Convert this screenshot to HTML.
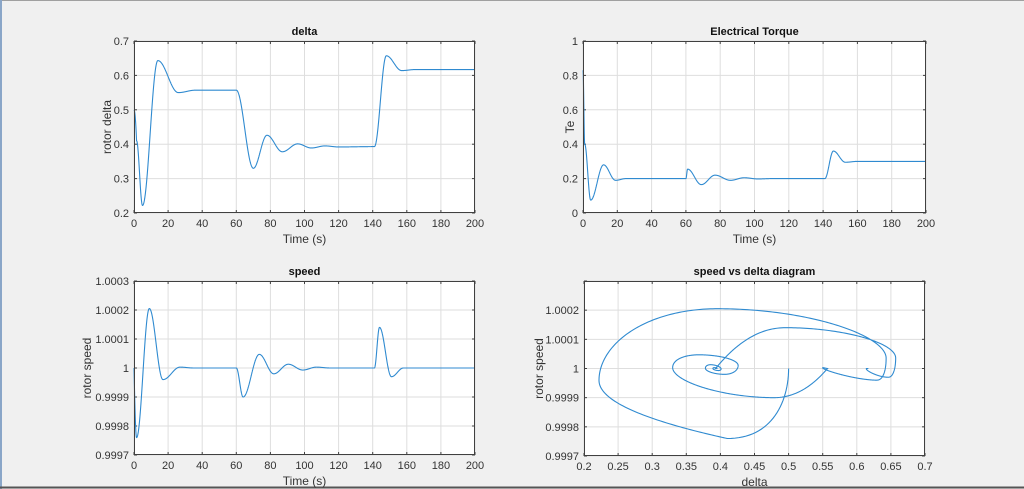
<!DOCTYPE html>
<html><head><meta charset="utf-8"><style>
html,body{margin:0;padding:0;background:#f0f0f0;}
svg{display:block;font-family:"Liberation Sans",Arial,sans-serif;}
</style></head><body>
<svg id="s" width="1024" height="489" viewBox="0 0 1024 489" xmlns="http://www.w3.org/2000/svg">
<rect x="0" y="0" width="1024" height="489" fill="#f0f0f0"/>
<line x1="0" y1="0.5" x2="1024" y2="0.5" stroke="#a0a0a0"/>
<line x1="1" y1="0" x2="1" y2="489" stroke="#8aa6c8" stroke-width="2"/>
<line x1="0" y1="487.5" x2="1024" y2="487.5" stroke="#555" stroke-width="2"/>
</svg>
<script>
var NS="http://www.w3.org/2000/svg",S=document.getElementById('s');
function el(t,a,txt){var e=document.createElementNS(NS,t);for(var k in a)e.setAttribute(k,a[k]);if(txt!=null)e.textContent=txt;S.appendChild(e);return e;}
function interp(k,t){for(var i=0;i<k.length-1;i++){if(t<=k[i+1][0]){var a=k[i],b=k[i+1],u=(t-a[0])/(b[0]-a[0]);var w=(1-Math.cos(Math.PI*u))/2;return a[1]+(b[1]-a[1])*w;}}return k[k.length-1][1];}
var D=[[1.5,0.41],[5,0.222],[14,0.643],[26,0.55],[36,0.557],[60,0.557],[70,0.33],[78,0.426],[87,0.378],[96,0.401],[104,0.389],[112,0.395],[120,0.392],[141,0.393],[148,0.657],[157,0.614],[165,0.617],[200,0.617]];
var W=[[1.5,0.99976],[9,1.000205],[17,0.99996],[27,1.000003],[35,1],[60,1],[64,0.9999],[73.5,1.000047],[82,0.99998],[90.5,1.000013],[99,0.999993],[107,1.000003],[115,1],[141,1],[144,1.00014],[151,0.99997],[158,1],[200,1]];
var T=[[0,0.83],[1,0.4],[4.5,0.075],[12,0.28],[19,0.19],[25,0.2],[60,0.2],[61,0.255],[69,0.165],[77,0.22],[86,0.19],[94,0.205],[102,0.198],[110,0.2],[141,0.2],[146,0.36],[153,0.295],[160,0.3],[200,0.3]];
function dl(t){if(t<1.5){var u=t/1.5;return 0.5-0.09*u*u;}return interp(D,t);}
function sp(t){if(t<1.5){var u=t/1.5;return 1-0.00024*Math.sin(Math.PI/2*u);}return interp(W,t);}
function fmt(v,d){var s=v.toFixed(d);if(d>0){s=s.replace(/0+$/,'').replace(/\.$/,'');}return s;}
function axes(o){
 var x0=o.x0,x1=o.x1,y0=o.y0,y1=o.y1;
 el('rect',{x:x0,y:y0,width:x1-x0,height:y1-y0,fill:'#fff'});
 var X=function(v){return x0+(v-o.xl[0])/(o.xl[1]-o.xl[0])*(x1-x0);};
 var Y=function(v){return y1-(v-o.yl[0])/(o.yl[1]-o.yl[0])*(y1-y0);};
 var nx=Math.round((o.xl[1]-o.xl[0])/o.xs),ny=Math.round((o.yl[1]-o.yl[0])/o.ys);
 for(var i=0;i<=nx;i++){var v=o.xl[0]+i*o.xs,px=X(v);
  el('line',{x1:px,y1:y0,x2:px,y2:y1,stroke:'#dedede','stroke-width':1});
  el('line',{x1:px,y1:y1,x2:px,y2:y1-3,stroke:'#404040'});el('line',{x1:px,y1:y0,x2:px,y2:y0+3,stroke:'#404040'});
  el('text',{x:px,y:y1+14,'font-size':11,fill:'#333','text-anchor':'middle'},fmt(v,o.xd));}
 for(var j=0;j<=ny;j++){var v=o.yl[0]+j*o.ys,py=Y(v);
  el('line',{x1:x0,y1:py,x2:x1,y2:py,stroke:'#dedede','stroke-width':1});
  el('line',{x1:x0,y1:py,x2:x0+3,y2:py,stroke:'#404040'});el('line',{x1:x1,y1:py,x2:x1-3,y2:py,stroke:'#404040'});
  if(!(o.skipTop&&j==ny))el('text',{x:x0-5,y:py+4,'font-size':11,fill:'#333','text-anchor':'end'},fmt(v,o.yd));}
 var pts=[];for(var k=0;k<=4000;k++){var t=k*0.05;var p=o.f(t);pts.push(X(p[0]).toFixed(2)+','+Y(p[1]).toFixed(2));}
 el('polyline',{points:pts.join(' '),fill:'none',stroke:'#2f8ad0','stroke-width':1.1});
 el('rect',{x:x0+0.5,y:y0+0.5,width:x1-x0-1,height:y1-y0-1,fill:'none',stroke:'#404040','stroke-width':1});
 el('text',{x:(x0+x1)/2,y:y0-6,'font-size':11,'font-weight':'bold',fill:'#111','text-anchor':'middle'},o.title);
 el('text',{x:(x0+x1)/2,y:y1+30,'font-size':12,fill:'#333','text-anchor':'middle'},o.xlab);
 var yx=o.ylx,yy=(y0+y1)/2;el('text',{x:yx,y:yy,'font-size':12,fill:'#333','text-anchor':'middle',transform:'rotate(-90 '+yx+' '+yy+')'},o.ylab);
}
axes({x0:134,x1:475,y0:41,y1:213,xl:[0,200],xs:20,xd:0,yl:[0.2,0.7],ys:0.1,yd:1,title:'delta',xlab:'Time (s)',ylab:'rotor delta',ylx:111,f:function(t){return[t,dl(t)];}});
axes({x0:583,x1:926,y0:41,y1:213,xl:[0,200],xs:20,xd:0,yl:[0,1],ys:0.2,yd:1,title:'Electrical Torque',xlab:'Time (s)',ylab:'Te',ylx:574,f:function(t){return[t,interp(T,t)];}});
axes({x0:134,x1:475,y0:281,y1:455,xl:[0,200],xs:20,xd:0,yl:[0.9997,1.0003],ys:0.0001,yd:4,title:'speed',xlab:'Time (s)',ylab:'rotor speed',ylx:91,f:function(t){return[t,sp(t)];}});
axes({x0:584,x1:925,y0:281,y1:456,xl:[0.2,0.7],xs:0.05,xd:2,yl:[0.9997,1.0003],ys:0.0001,yd:4,skipTop:true,title:'speed vs delta diagram',xlab:'delta',ylab:'rotor speed',ylx:543,f:function(t){return[dl(t),sp(t)];}});
</script>
</body></html>
